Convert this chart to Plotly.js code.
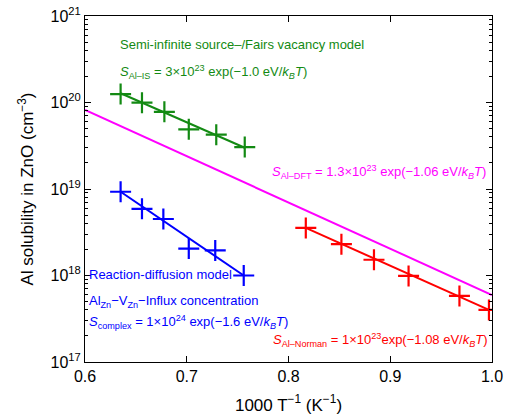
<!DOCTYPE html>
<html>
<head>
<meta charset="utf-8">
<script src="https://cdn.plot.ly/plotly-3.0.1.min.js"></script>
<style>html,body{margin:0;padding:0;background:#fff;}#chart{width:515px;height:419px;}</style>
</head>
<body>
<div id="chart"></div>
<script>
// Data
const greenX = [0.635, 0.656, 0.678, 0.702, 0.729, 0.757];
const greenY = [1.25e20, 9.95e19, 7.8e19, 4.9e19, 4.25e19, 3.05e19];
const greenFitX = [0.635, 0.757];
const greenFitY = [1.28e20, 3.0e19];

const blueX = [0.635, 0.656, 0.677, 0.702, 0.728, 0.756];
const blueY = [9.3e18, 5.9e18, 4.5e18, 2.05e18, 1.95e18, 1.0e18];
const blueFitX = [0.635, 0.756];
const blueFitY = [9.3e18, 1.0e18];

const redX = [0.817, 0.852, 0.884, 0.918, 0.968, 0.997];
const redY = [3.55e18, 2.3e18, 1.52e18, 9.9e17, 5.8e17, 4.0e17];
const redFitX = [0.817, 0.997];
const redFitY = [3.55e18, 4.0e17];

const dftX = [0.6, 1.0];
const dftY = [8.2e19, 5.95e17];

const yTickVals = [1e17, 1e18, 1e19, 1e20, 1e21];
const yTickText = ['10<sup>17</sup>', '10<sup>18</sup>', '10<sup>19</sup>', '10<sup>20</sup>', '10<sup>21</sup>'];
const xTickVals = [0.6, 0.7, 0.8, 0.9, 1.0];
const xTickText = ['0.6', '0.7', '0.8', '0.9', '1.0'];

// minor tick positions (2..9 x 10^n) for the log axis
const yMinorVals = [];
for (let e = 17; e < 21; e++) for (let m = 2; m <= 9; m++) yMinorVals.push(m * Math.pow(10, e));

const GREEN = '#138a13', BLUE = '#0000ff', RED = '#ff0000', MAG = '#ff00ff';

function fit(x, y, c) {
  return {x: x, y: y, mode: 'lines', line: {color: c, width: 2}, hoverinfo: 'skip', showlegend: false};
}
function pts(x, y, c) {
  return {x: x, y: y, mode: 'markers', marker: {symbol: 'cross-thin', size: 15, line: {color: c, width: 2.2}}, showlegend: false};
}

const data = [
  {x: dftX, y: dftY, yaxis: 'y2', mode: 'lines', opacity: 0, line: {width: 0}, showlegend: false, hoverinfo: 'skip'},
  fit(dftX, dftY, MAG),
  fit(greenFitX, greenFitY, GREEN), pts(greenX, greenY, GREEN),
  fit(blueFitX, blueFitY, BLUE), pts(blueX, blueY, BLUE),
  fit(redFitX, redFitY, RED), pts(redX, redY, RED)
];

const af = 'Arial, "Liberation Sans", Helvetica, sans-serif';
function ann(text, x, ylog, color, anchor) {
  return {text: text, x: x, y: ylog, xref: 'x', yref: 'y', showarrow: false,
          xanchor: anchor, yanchor: 'middle', font: {family: af, size: 13, color: color}};
}

const layout = {
  width: 515, height: 419,
  margin: {l: 85, r: 23, t: 16, b: 57},
  paper_bgcolor: '#fff', plot_bgcolor: '#fff',
  font: {family: af, color: '#000'},
  xaxis: {
    range: [0.6, 1.0], tickvals: xTickVals, ticktext: xTickText,
    ticks: 'inside', ticklen: 6, tickcolor: '#000', showline: true, linecolor: '#000', linewidth: 1,
    mirror: 'ticks', showgrid: false, zeroline: false, tickfont: {size: 16},
    title: {text: '1000 T<sup>−1</sup> (K<sup>−1</sup>)', font: {size: 17}, standoff: 14}
  },
  yaxis: {
    type: 'log', range: [17, 21], tickvals: yTickVals, ticktext: yTickText,
    ticks: 'inside', ticklen: 6, tickcolor: '#000', showline: true, linecolor: '#000', linewidth: 1,
    mirror: 'ticks', showgrid: false, zeroline: false, tickfont: {size: 16},
    title: {text: 'Al solubility in ZnO (cm<sup>−3</sup>)', font: {size: 17}, standoff: 12}
  },
  yaxis2: {
    type: 'log', range: [17, 21], overlaying: 'y', side: 'left',
    tickvals: yMinorVals, showticklabels: false,
    ticks: 'inside', ticklen: 3, tickcolor: '#000', showline: false,
    mirror: 'ticks', showgrid: false, zeroline: false
  },
  annotations: [
    ann('Semi-infinite source–/Fairs vacancy model', 0.6324, 20.665, GREEN, 'left'),
    ann('<i>S</i><sub>Al–IS</sub> = 3×10<sup>23</sup> exp(−1.0 eV/<i>k</i><sub><i>B</i></sub><i>T</i>)', 0.6324, 20.35, GREEN, 'left'),
    ann('<i>S</i><sub>Al–DFT</sub> = 1.3×10<sup>23</sup> exp(−1.06 eV/<i>k</i><sub><i>B</i></sub><i>T</i>)', 0.9961, 19.197, MAG, 'right'),
    ann('Reaction-diffusion model', 0.602, 18.006, BLUE, 'left'),
    ann('Al<sub>Zn</sub>−V<sub>Zn</sub>−Influx concentration', 0.602, 17.694, BLUE, 'left'),
    ann('<i>S</i><sub>complex</sub> = 1×10<sup>24</sup> exp(−1.6 eV/<i>k</i><sub><i>B</i></sub><i>T</i>)', 0.602, 17.462, BLUE, 'left'),
    ann('<i>S</i><sub>Al–Norman</sub> = 1×10<sup>23</sup>exp(−1.08 eV/<i>k</i><sub><i>B</i></sub><i>T</i>)', 0.9981, 17.254, RED, 'right')
  ]
};

Plotly.newPlot('chart', data, layout, {displayModeBar: false, staticPlot: true});
</script>
</body>
</html>
